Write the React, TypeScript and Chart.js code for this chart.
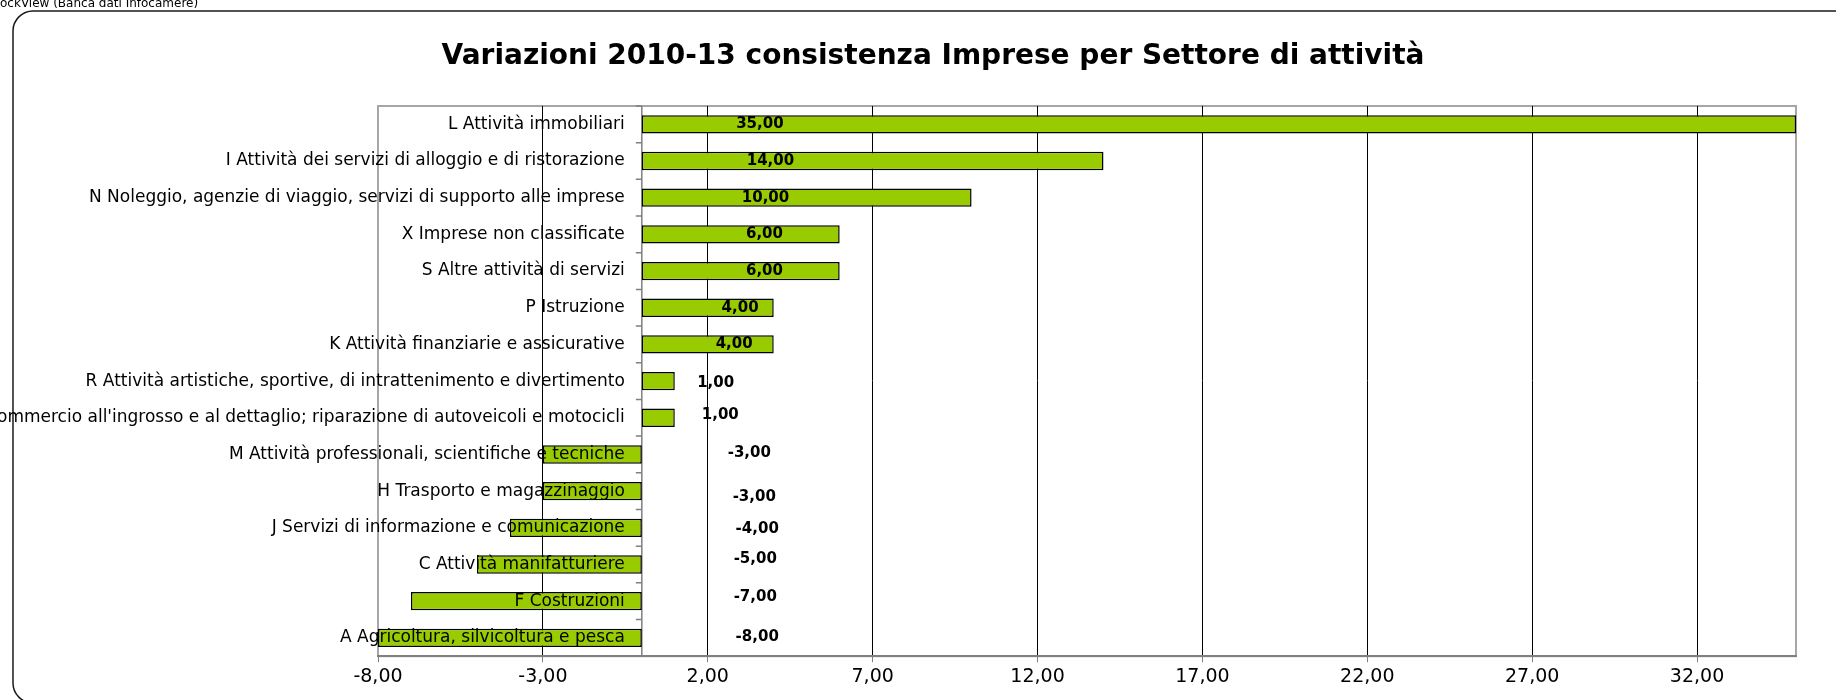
import React, { useEffect, useRef } from 'react';
import { Chart, registerables } from 'chart.js';

Chart.register(...registerables);

const sourceText = 'StockView (Banca dati Infocamere)';
const titleText = 'Variazioni 2010-13 consistenza Imprese per Settore di attività';

const categories = [
  'L Attività immobiliari',
  'I Attività dei servizi di alloggio e di ristorazione',
  'N Noleggio, agenzie di viaggio, servizi di supporto alle imprese',
  'X Imprese non classificate',
  'S Altre attività di servizi',
  'P Istruzione',
  'K Attività finanziarie e assicurative',
  'R Attività artistiche, sportive, di intrattenimento e divertimento',
  "G Commercio all'ingrosso e al dettaglio; riparazione di autoveicoli e motocicli",
  'M Attività professionali, scientifiche e tecniche',
  'H Trasporto e magazzinaggio',
  'J Servizi di informazione e comunicazione',
  'C Attività manifatturiere',
  'F Costruzioni',
  'A Agricoltura, silvicoltura e pesca',
];

const values = [35, 14, 10, 6, 6, 4, 4, 1, 1, -3, -3, -4, -5, -7, -8];

const xTickValues = [-8, -3, 2, 7, 12, 17, 22, 27, 32];

// manual data-label anchors (axis units) and vertical nudges, as in the source chart
const labelAnchor = [3.58, 3.9, 3.75, 3.72, 3.72, 2.98, 2.8, 2.24, 2.38, 3.26, 3.41, 3.5, 3.44, 3.44, 3.5];
const labelDy = [0, 0, 0, 0, 0, 0, 0, 2, -3, -1, 6, 1, -5, -4, -1];

const fmt = (v: number) => v.toFixed(2).replace('.', ',');

const W = 1836;
const H = 700;

const decorPlugin = {
  id: 'decor',
  beforeDraw(chart: any) {
    const ctx = chart.ctx;
    const a = chart.chartArea;
    ctx.save();
    ctx.fillStyle = '#ffffff';
    ctx.fillRect(0, 0, W, H);

    // source text (partly cut at the left edge)
    ctx.font = '12px "DejaVu Sans"';
    ctx.fillStyle = '#000';
    ctx.textBaseline = 'alphabetic';
    ctx.textAlign = 'left';
    const cut = ctx.measureText('St').width;
    ctx.fillText(sourceText, -cut, 7);

    // card
    ctx.beginPath();
    (ctx as any).roundRect(13, 11, 1880, 692, 20);
    ctx.lineWidth = 1.5;
    ctx.strokeStyle = '#1a1a1a';
    ctx.stroke();

    // title
    ctx.font = 'bold 28px "DejaVu Sans"';
    ctx.textAlign = 'center';
    ctx.textBaseline = 'middle';
    ctx.fillStyle = '#000';
    ctx.fillText(titleText, 933, 57);

    // plot frame
    ctx.strokeStyle = '#a6a6a6';
    ctx.lineWidth = 2;
    ctx.strokeRect(a.left, a.top, a.right - a.left, a.bottom - a.top);
    ctx.restore();
  },
  beforeDatasetsDraw(chart: any) {
    const ctx = chart.ctx;
    const a = chart.chartArea;
    const x0 = chart.scales.x.getPixelForValue(0);
    const ys = chart.scales.y;
    const band = ys.getPixelForValue(1) - ys.getPixelForValue(0);
    ctx.save();
    ctx.strokeStyle = '#808080';
    ctx.lineWidth = 1.5;
    ctx.beginPath();
    ctx.moveTo(x0, a.top);
    ctx.lineTo(x0, a.bottom);
    const n = categories.length;
    for (let i = 0; i <= n; i++) {
      const y = ys.getPixelForValue(0) - band / 2 + i * band;
      ctx.moveTo(x0 - 6, y);
      ctx.lineTo(x0, y);
    }
    ctx.stroke();
    ctx.restore();
  },
  afterDatasetsDraw(chart: any) {
    const ctx = chart.ctx;
    const xs = chart.scales.x;
    const ys = chart.scales.y;
    const x0 = xs.getPixelForValue(0);
    ctx.save();
    // category labels at the zero line
    ctx.font = '17px "DejaVu Sans"';
    ctx.fillStyle = '#000';
    ctx.textAlign = 'right';
    ctx.textBaseline = 'middle';
    categories.forEach((c, i) => {
      ctx.fillText(c, x0 - 17, ys.getPixelForValue(i));
    });
    // data labels
    ctx.font = 'bold 15px "DejaVu Sans"';
    ctx.textAlign = 'center';
    values.forEach((v, i) => {
      ctx.fillText(fmt(v), xs.getPixelForValue(labelAnchor[i]), ys.getPixelForValue(i) + labelDy[i]);
    });
    ctx.restore();
  },
};

export default function App() {
  const ref = useRef<HTMLCanvasElement>(null);
  useEffect(() => {
    document.body.style.margin = '0';
    const canvas = ref.current!;
    const chart = new Chart(canvas, {
      type: 'bar',
      data: {
        labels: categories,
        datasets: [
          {
            data: values,
            backgroundColor: '#99CC00',
            borderColor: '#000000',
            borderWidth: 1.5,
            borderSkipped: false,
            barPercentage: 0.5,
            categoryPercentage: 1,
          },
        ],
      },
      options: {
        indexAxis: 'y',
        responsive: false,
        animation: false,
        devicePixelRatio: 1,
        layout: { padding: { left: 378, right: 40, top: 106, bottom: 9 } },
        plugins: {
          legend: { display: false },
          title: { display: false },
          tooltip: { enabled: false },
        },
        scales: {
          x: {
            type: 'linear',
            min: -8,
            max: 35,
            afterBuildTicks: (scale: any) => {
              scale.ticks = xTickValues.map((v) => ({ value: v }));
            },
            grid: {
              color: (c: any) => (c.tick && c.tick.value === -8 ? '#a6a6a6' : '#000000'),
              lineWidth: 1,
              drawTicks: true,
              tickLength: 6,
              tickColor: '#808080',
            },
            border: { display: true, color: '#808080', width: 2 },
            ticks: {
              autoSkip: false,
              maxRotation: 0,
              padding: 3,
              color: '#000',
              font: { family: '"DejaVu Sans"', size: 19 },
              callback: (v: any) => fmt(Number(v)),
            },
          },
          y: {
            type: 'category',
            display: false,
          },
        },
      },
      plugins: [decorPlugin],
    } as any);
    return () => chart.destroy();
  }, []);
  return <canvas ref={ref} width={W} height={H} style={{ display: 'block', width: W, height: H }} />;
}
